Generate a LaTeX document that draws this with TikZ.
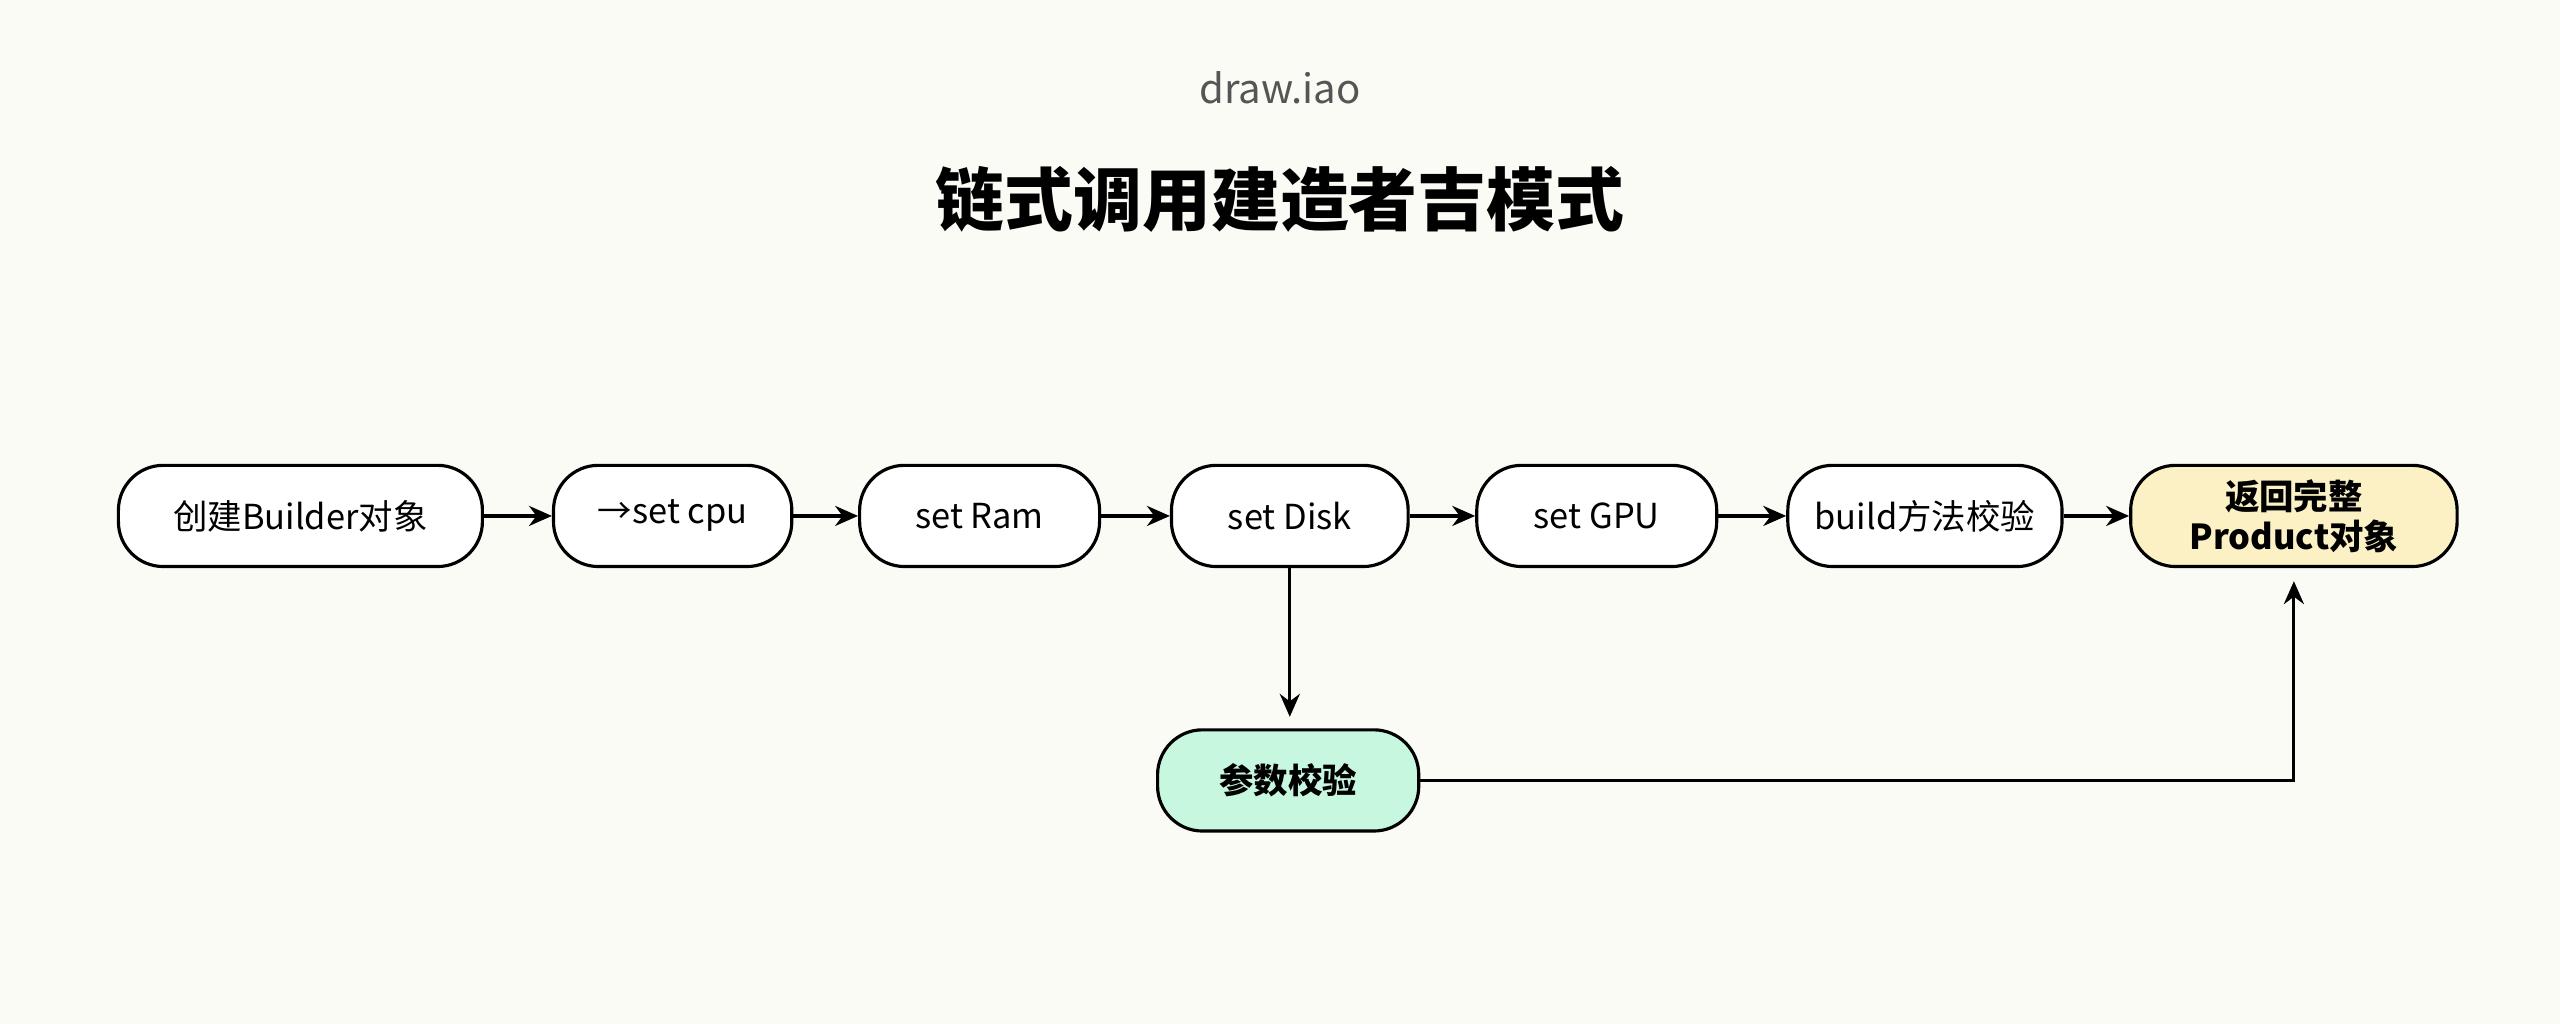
\documentclass[tikz,border=0pt]{standalone}
\usepackage{fontspec}
\setmainfont{Noto Sans CJK SC}
\usetikzlibrary{arrows.meta}
\definecolor{paper}{HTML}{FBFBF6}
\definecolor{checkg}{HTML}{C8F7DF}
\definecolor{resulty}{HTML}{FBF1C4}
\definecolor{titleg}{HTML}{555555}
\tikzset{
	stage/.style={draw=black, line width=1.1pt, rounded corners=0.55cm, minimum height=1.24cm, fill=white, font=\fontsize{12}{15}\selectfont, align=center, inner sep=0pt},
	flow/.style={line width=1.1pt, -{Stealth[length=8pt,width=7pt]}}
}
\begin{document}
\begin{tikzpicture}[x=0.02cm,y=-0.02cm]
		\fill[paper] (0,0) rectangle (1568,627);
		%
		% titles
		\node[text=titleg, font=\fontsize{14}{16}\selectfont] (brand) at (784,54) {draw.iao};
		\node[font=\fontsize{24}{28}\selectfont\bfseries] (title) at (784,122) {链式调用建造者吉模式};
		%
		% chain
		\node[stage, minimum width=4.46cm] (create) at (184,316) {创建Builder对象};
		\node[stage, minimum width=2.92cm] (cpu) at (412,316) {→set cpu};
		\node[stage, minimum width=2.94cm] (ram) at (600,316) {set Ram};
		\node[stage, minimum width=2.90cm] (disk) at (790,316) {set Disk};
		\node[stage, minimum width=2.94cm] (gpu) at (978,316) {set GPU};
		\node[stage, minimum width=3.36cm] (build) at (1179,316) {build方法校验};
		\node[stage, minimum width=4.00cm, fill=resulty, font=\fontsize{12}{14}\selectfont\bfseries] (product) at (1405,316) {返回完整\\Product对象};
		\node[stage, minimum width=3.20cm, fill=checkg, font=\fontsize{12}{15}\selectfont\bfseries] (check) at (789,478) {参数校验};
		%
		\draw[flow] (create) -- (cpu);
		\draw[flow] (cpu) -- (ram);
		\draw[flow] (ram) -- (disk);
		\draw[flow] (disk) -- (gpu);
		\draw[flow] (gpu) -- (build);
		\draw[flow] (build) -- (product);
		\draw[flow] (disk) -- ([yshift=0.14cm]check.north -| disk);
		\draw[flow] (check) -| ([yshift=-0.16cm]product.south);
	\end{tikzpicture}
\end{document}
